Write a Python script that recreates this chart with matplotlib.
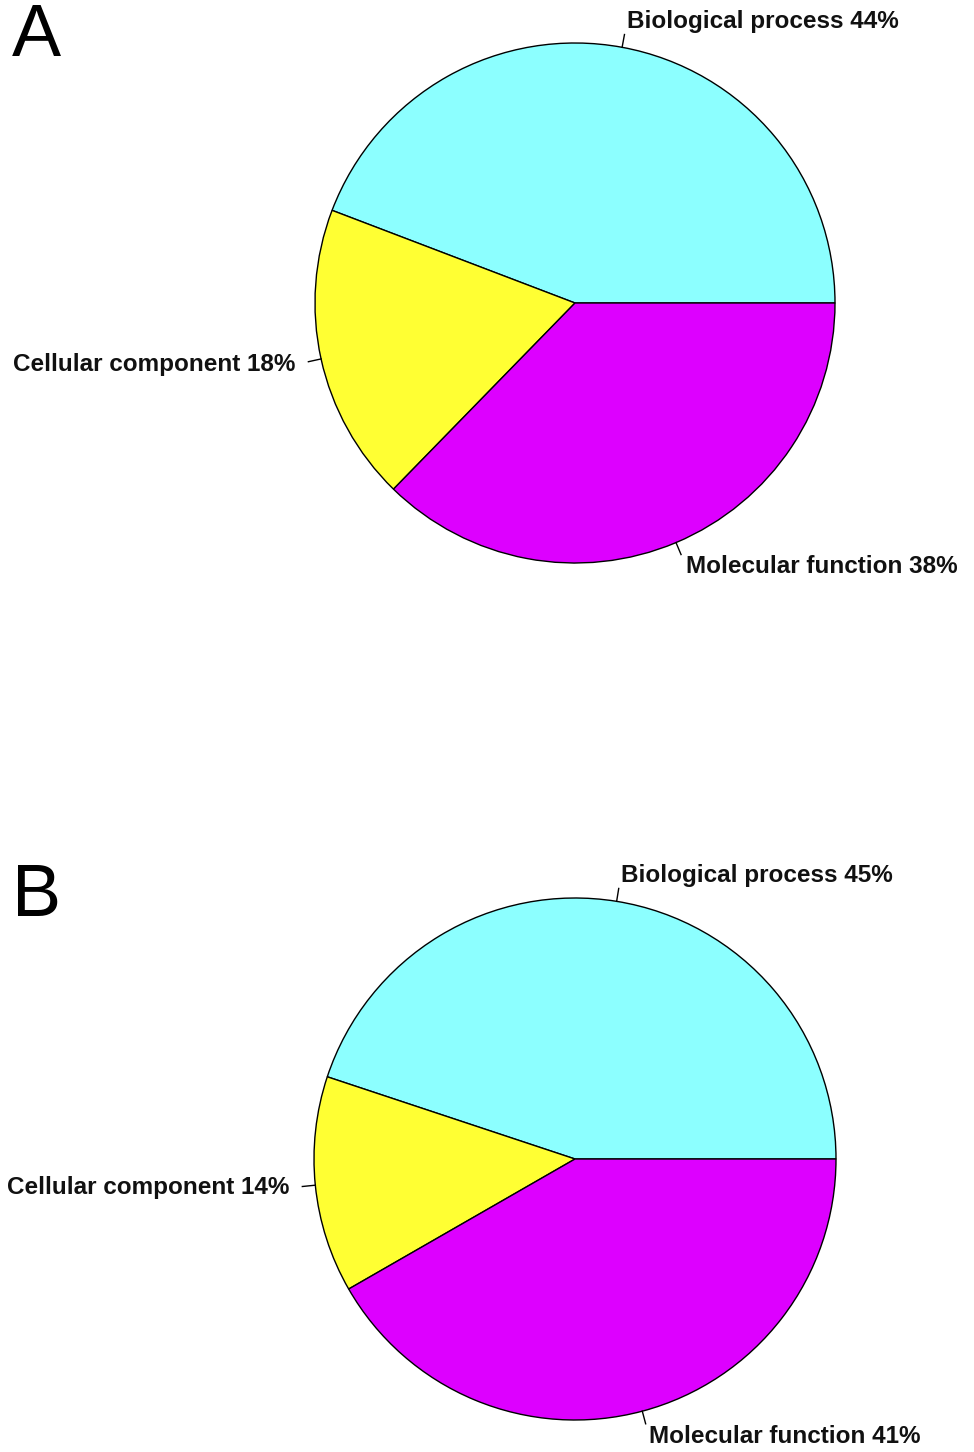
import numpy as np
import matplotlib.pyplot as plt

plt.rcParams['font.family'] = ['Liberation Sans', 'DejaVu Sans']

categories = ['Biological process', 'Cellular component', 'Molecular function']
# slice shares; printed labels are the rounded ones
shares_a = [44.2, 18.5, 37.3]
shares_b = [44.9, 13.4, 41.7]
labels_a = [44, 18, 38]
labels_b = [45, 14, 41]
colors = ['#8cffff', '#ffff33', '#dd00ff']

W, H = 974, 1452
HALF = H / 2


def draw_pie(ax, values, pct, letter, cx, cy, r, letter_y):
    # data coords in pixels, y upward, each axes is half the figure
    wedges, _ = ax.pie(values, colors=colors, startangle=0, counterclock=True,
                       center=(cx, cy), radius=r,
                       wedgeprops=dict(edgecolor='black', linewidth=1.0))
    for w, name, v in zip(wedges, categories, pct):
        ang = np.deg2rad((w.theta1 + w.theta2) / 2)
        c, s = np.cos(ang), np.sin(ang)
        ax.plot([cx + r * c, cx + 1.05 * r * c], [cy + r * s, cy + 1.05 * r * s],
                color='black', lw=1.0)
        ax.text(cx + 1.1 * r * c, cy + 1.1 * r * s, f'{name} {v}%',
                ha='left' if c > 0 else 'right', va='center',
                fontsize=17.5, fontweight='bold', color='#111111')
    ax.text(12, letter_y, letter, fontsize=53, ha='left', va='center')
    ax.set_xlim(0, W)
    ax.set_ylim(0, HALF)
    ax.set_aspect('auto')
    ax.axis('off')


fig = plt.figure(figsize=(W / 100, H / 100), dpi=100)

ax1 = fig.add_axes([0, 0.5, 1, 0.5])
draw_pie(ax1, shares_a, labels_a, 'A', 575, HALF - 303, 260, HALF - 37)

ax2 = fig.add_axes([0, 0, 1, 0.5])
draw_pie(ax2, shares_b, labels_b, 'B', 575, HALF - (1159 - HALF), 261, HALF - (897 - HALF))

fig.savefig('out.png', dpi=100, facecolor='white')
